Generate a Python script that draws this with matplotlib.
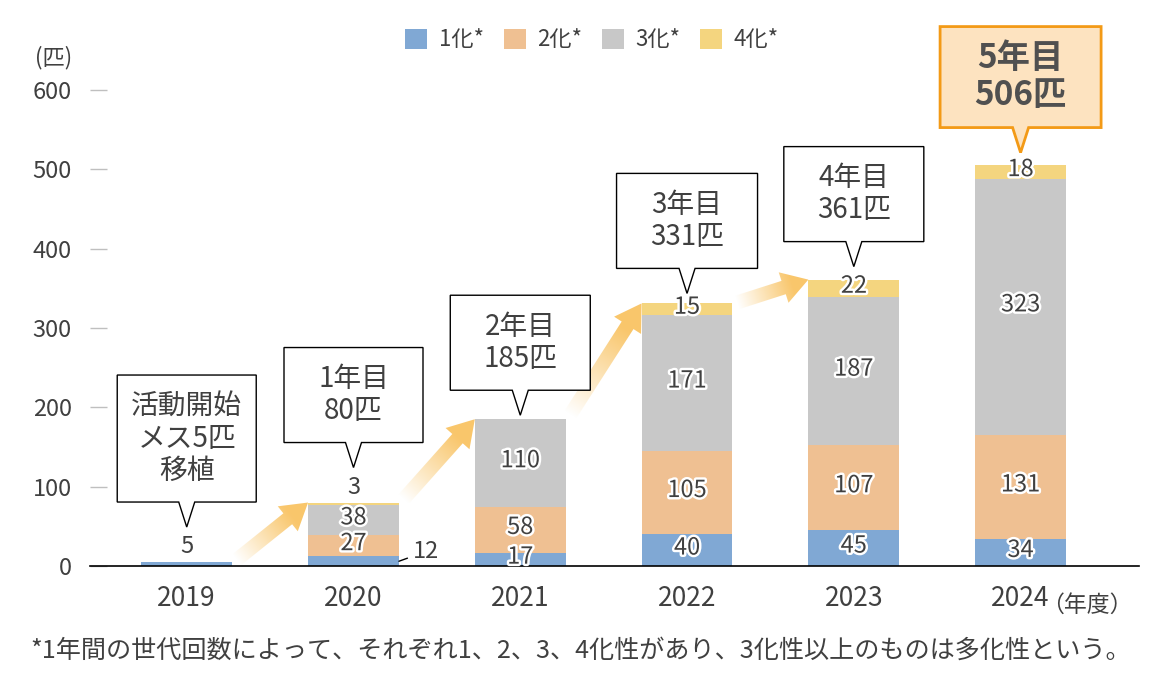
import numpy as np
import matplotlib
matplotlib.use('Agg')
import matplotlib.pyplot as plt
import matplotlib.patheffects as pe
from matplotlib.patches import Polygon

plt.rcParams['font.family'] = ['Noto Sans CJK JP', 'DejaVu Sans']

# データ（匹）
years = ['2019', '2020', '2021', '2022', '2023', '2024']
gen1 = [5, 12, 17, 40, 45, 34]
gen2 = [0, 27, 58, 105, 107, 131]
gen3 = [0, 38, 110, 171, 187, 323]
gen4 = [0, 3, 0, 15, 22, 18]
names = ['1化*', '2化*', '3化*', '4化*']
callouts = ['活動開始\nメス5匹\n移植', '1年目\n80匹', '2年目\n185匹',
            '3年目\n331匹', '4年目\n361匹', '5年目\n506匹']
note = '*1年間の世代回数によって、それぞれ1、2、3、4化性があり、3化性以上のものは多化性という。'

colors = ['#80A8D4', '#EFC092', '#C8C8C8', '#F4D57F']
txt = '#404040'
W, H = 1166, 691

fig = plt.figure(figsize=(W / 100, H / 100), dpi=100)
ax = fig.add_axes([90 / W, 125 / H, (1139 - 90) / W, (566 - 90) / H])

x = np.arange(len(years))
bw = 0.545
series = [gen1, gen2, gen3, gen4]
bottom = np.zeros(len(years))
for s, c, n in zip(series, colors, names):
    ax.bar(x, s, bw, bottom=bottom, color=c, label=n, zorder=2)
    bottom += np.array(s)
totals = bottom

ax.set_xlim(-0.58, 5.71)
ax.set_ylim(0, 600)
ax.set_yticks(range(0, 601, 100))
ax.tick_params(axis='y', direction='in', length=12, width=1, color='#BFBFBF',
               labelsize=17, labelcolor=txt, pad=13)
ax.set_xticks(x)
ax.set_xticklabels(years)
ax.tick_params(axis='x', length=0, labelsize=19, labelcolor=txt, pad=14)
for sp in ['left', 'right', 'top']:
    ax.spines[sp].set_visible(False)
ax.spines['bottom'].set_color('black')
ax.spines['bottom'].set_linewidth(1.2)
ax.spines['bottom'].set_zorder(3)

stroke = [pe.withStroke(linewidth=3.5, foreground='white')]

# 棒の中の数値
for i in range(len(years)):
    base = 0
    for k, s in enumerate(series):
        v = s[i]
        if v == 0:
            continue
        if i == 0:
            ax.annotate(str(v), (x[i], base + v), xytext=(0, 11), textcoords='offset points',
                        ha='center', va='center', fontsize=17, color=txt)
        elif i == 1 and k == 3:
            ax.annotate(str(v), (x[i], base + v), xytext=(0, 10.5), textcoords='offset points',
                        ha='center', va='center', fontsize=17, color=txt)
        elif i == 1 and k == 0:
            ax.annotate(str(v), (x[i] + bw / 2, base + v / 2), xytext=(10, 7),
                        textcoords='offset points', ha='left', va='center', fontsize=17,
                        color=txt, arrowprops=dict(arrowstyle='-', color='black', lw=1,
                                                   shrinkA=2, shrinkB=0))
        else:
            ax.annotate(str(v), (x[i], base + v / 2), xytext=(0, 1.5), textcoords='offset points',
                        ha='center', va='center', fontsize=17,
                        color=txt, path_effects=stroke, zorder=4)
        base += v

ax.annotate('（年度）', (5, 0), xycoords=('data', 'axes fraction'), xytext=(15, -28.5),
            textcoords='offset points', ha='left', va='center', fontsize=16.5, color=txt)
fig.text(72 / W, 1 - 58 / H, '(匹)', ha='right', va='center', fontsize=16, color=txt)

leg = fig.legend(loc='center', bbox_to_anchor=(592 / W, 1 - 40 / H), ncol=4, frameon=False,
                 fontsize=16, handlelength=1.0, handleheight=1.0, handletextpad=0.5,
                 columnspacing=0.9)
for t in leg.get_texts():
    t.set_color(txt)

fig.text(30 / W, 1 - 651 / H, note, ha='left', va='center', fontsize=18.1, color=txt)

# 重ね描き用（ピクセル座標）
ov = fig.add_axes([0, 0, 1, 1], zorder=5)
ov.patch.set_visible(False)
ov.axis('off')


def to_px(xd, yd):
    X, Y = ax.transData.transform((xd, yd))
    return X, H - Y


def grad_arrow(p0, p1, shaft=14, head_w=32, head_l=26, rgb=(0.98, 0.78, 0.42)):
    x0, y0 = p0
    x1, y1 = p1
    L = np.hypot(x1 - x0, y1 - y0)
    ux, uy = (x1 - x0) / L, (y1 - y0) / L
    nx, ny = -uy, ux
    bx, by = x1 - ux * head_l, y1 - uy * head_l
    pts = [(x0 + nx * shaft / 2, y0 + ny * shaft / 2), (bx + nx * shaft / 2, by + ny * shaft / 2),
           (bx + nx * head_w / 2, by + ny * head_w / 2), (x1, y1),
           (bx - nx * head_w / 2, by - ny * head_w / 2), (bx - nx * shaft / 2, by - ny * shaft / 2),
           (x0 - nx * shaft / 2, y0 - ny * shaft / 2)]
    poly = Polygon(pts, closed=True, facecolor='none', edgecolor='none')
    ov.add_patch(poly)
    xs = [p[0] for p in pts]
    ys = [p[1] for p in pts]
    xmin, xmax, ymin, ymax = min(xs), max(xs), min(ys), max(ys)
    gx, gy = np.meshgrid(np.linspace(xmin, xmax, 200), np.linspace(ymin, ymax, 200))
    t = ((gx - x0) * ux + (gy - y0) * uy) / L
    img = np.zeros((200, 200, 4))
    img[..., 0], img[..., 1], img[..., 2] = rgb
    img[..., 3] = np.clip(t * 1.35 - 0.05, 0, 1)
    im = ov.imshow(img, extent=(xmin, xmax, ymax, ymin), origin='upper', aspect='auto',
                   interpolation='bilinear', zorder=2)
    im.set_clip_path(poly)


for i in range(4):
    p0 = to_px(x[i] + bw / 2 + 0.01, totals[i])
    p1 = to_px(x[i + 1] - bw / 2, totals[i + 1])
    grad_arrow(p0, p1)

# 吹き出し
gaps = [35, 35, 4, 10, 13, 12]
box_w = [139, 139, 140, 141, 140, 161]
box_h = [127, 95, 95, 95, 95, 101]
ptr_h = 25
for i in range(len(years)):
    cx, ty = to_px(x[i], totals[i])
    tip = ty - gaps[i]
    bb = tip - ptr_h
    bt = bb - box_h[i]
    l, r = cx - box_w[i] / 2, cx + box_w[i] / 2
    verts = [(l, bb), (cx - 8, bb), (cx, tip), (cx + 8, bb), (r, bb), (r, bt), (l, bt)]
    last = i == len(years) - 1
    ov.add_patch(Polygon(verts, closed=True, facecolor='#FDE3C0' if last else 'white',
                         edgecolor='#F39A16' if last else 'black',
                         lw=2 if last else 1, zorder=3, joinstyle='miter'))
    ov.text(cx, (bb + bt) / 2, callouts[i], ha='center', va='center',
            fontsize=24 if last else 20, fontweight='bold' if last else 'normal',
            color='#505050' if last else txt, linespacing=1.15 if last else 1.1, zorder=4)

ov.set_xlim(0, W)
ov.set_ylim(H, 0)

fig.savefig('out.png', dpi=100)
